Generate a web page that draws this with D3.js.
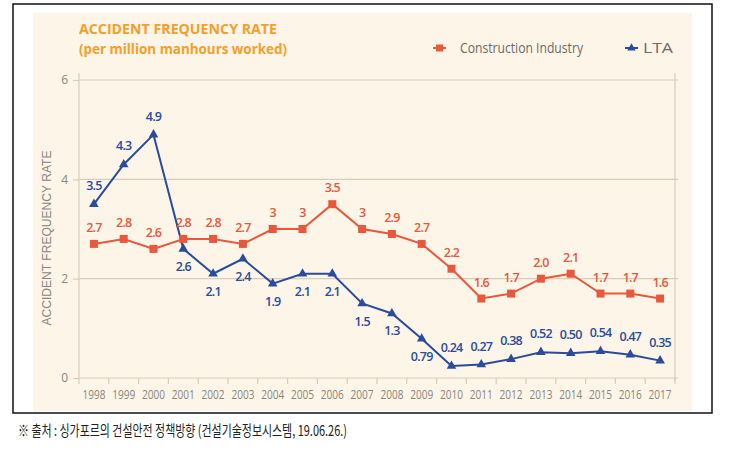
<!DOCTYPE html>
<html><head><meta charset="utf-8">
<script src="https://cdn.jsdelivr.net/npm/d3@7"></script>
<style>body{margin:0;background:#fff}svg{display:block}</style>
</head><body>
<script>
const years = ["1998","1999","2000","2001","2002","2003","2004","2005","2006","2007","2008","2009","2010","2011","2012","2013","2014","2015","2016","2017"];
const construction = [2.7,2.8,2.6,2.8,2.8,2.7,3,3,3.5,3,2.9,2.7,2.2,1.6,1.7,2.0,2.1,1.7,1.7,1.6];
const constructionLabels = ["2.7","2.8","2.6","2.8","2.8","2.7","3","3","3.5","3","2.9","2.7","2.2","1.6","1.7","2.0","2.1","1.7","1.7","1.6"];
const lta = [3.5,4.3,4.9,2.6,2.1,2.4,1.9,2.1,2.1,1.5,1.3,0.79,0.24,0.27,0.38,0.52,0.50,0.54,0.47,0.35];
const ltaLabels = ["3.5","4.3","4.9","2.6","2.1","2.4","1.9","2.1","2.1","1.5","1.3","0.79","0.24","0.27","0.38","0.52","0.50","0.54","0.47","0.35"];
const ltaLabelPos = ["a","a","a","b","b","b","b","b","b","b","b","b","a","a","a","a","a","a","a","a"];
const yTicks = [0,2,4,6];

const W = 730, H = 457;
const svg = d3.select("body").append("svg").attr("width", W).attr("height", H);

svg.append("rect").attr("x",33).attr("y",13).attr("width",659).attr("height",398).attr("fill","#fdf5e7");
svg.append("rect").attr("x",13).attr("y",4).attr("width",699).attr("height",409).attr("fill","none").attr("stroke","#111").attr("stroke-width",1.5);

const x = d3.scaleBand().domain(years).range([79,675]);
const y = d3.scaleLinear().domain([0,6]).range([378,80]);
const cx = d => x(d) + x.bandwidth()/2;

const grid = "#d8cdbd";
svg.append("g").selectAll("line").data(yTicks.filter(d=>d>0)).join("line")
  .attr("x1",79).attr("x2",678).attr("y1",d=>y(d)).attr("y2",d=>y(d))
  .attr("stroke",grid).attr("stroke-width",1.2);
svg.append("line").attr("x1",675).attr("x2",675).attr("y1",73).attr("y2",381).attr("stroke",grid).attr("stroke-width",1.2);

const yAxis = svg.append("g").attr("transform","translate(79,0)")
  .call(d3.axisLeft(y).tickValues(yTicks).tickSize(6).tickPadding(5).tickFormat(d3.format("d")));
yAxis.select(".domain").attr("stroke",grid).attr("stroke-width",1.2).attr("d","M0,73V378");
yAxis.selectAll(".tick line").attr("stroke",grid).attr("stroke-width",1.2);
yAxis.selectAll("text").attr("fill","#8a8580").attr("font-family","'Open Sans',sans-serif").attr("font-size",12);

const xAxis = svg.append("g").attr("transform","translate(0,378)")
  .call(d3.axisBottom(x).tickSize(0).tickPadding(12));
xAxis.select(".domain").attr("stroke",grid).attr("stroke-width",1.2).attr("d","M79,0H678");
xAxis.selectAll("text").attr("fill","#8a8580").attr("font-family","'Open Sans',sans-serif").attr("font-size",12)
  .attr("textLength",23).attr("lengthAdjust","spacingAndGlyphs");
const bounds = years.map(d=>x(d)).concat([675]);
svg.append("g").selectAll("line").data(bounds).join("line")
  .attr("x1",d=>d).attr("x2",d=>d).attr("y1",378).attr("y2",384)
  .attr("stroke",grid).attr("stroke-width",1.2);

svg.append("text").attr("transform","translate(51,238) rotate(-90)").attr("text-anchor","middle")
  .attr("font-family","'Liberation Sans','DejaVu Sans',sans-serif").attr("font-size",12).attr("fill","#8a8580")
  .attr("textLength",175).attr("lengthAdjust","spacingAndGlyphs")
  .text("ACCIDENT FREQUENCY RATE");

const tf = "'Open Sans','Noto Sans',sans-serif";
svg.append("text").attr("x",79).attr("y",34).attr("font-family",tf).attr("font-weight",700).attr("font-size",15)
  .attr("fill","#f2a02d").attr("textLength",198).attr("lengthAdjust","spacingAndGlyphs").text("ACCIDENT FREQUENCY RATE");
svg.append("text").attr("x",79).attr("y",54).attr("font-family",tf).attr("font-weight",700).attr("font-size",15)
  .attr("fill","#f2a02d").attr("textLength",208).attr("lengthAdjust","spacingAndGlyphs").text("(per million manhours worked)");

const red = "#e9573c", blue = "#2a4b9e";
const line = d3.line().x((d,i)=>cx(years[i])).y(d=>y(d));

svg.append("path").datum(construction).attr("d",line).attr("fill","none").attr("stroke",red).attr("stroke-width",2);
svg.append("path").datum(lta).attr("d",line).attr("fill","none").attr("stroke",blue).attr("stroke-width",2);

svg.append("g").selectAll("rect").data(construction).join("rect")
  .attr("x",(d,i)=>cx(years[i])-4).attr("y",d=>y(d)-4).attr("width",8).attr("height",8).attr("fill",red);
const tri = d3.symbol().type(d3.symbolTriangle).size(40);
svg.append("g").selectAll("path").data(lta).join("path")
  .attr("transform",(d,i)=>`translate(${cx(years[i])},${y(d)})`).attr("d",tri).attr("fill",blue);

const lf = "'Open Sans','Noto Sans',sans-serif";
svg.append("g").selectAll("text").data(construction).join("text")
  .attr("x",(d,i)=>cx(years[i])).attr("y",d=>y(d)-12).attr("text-anchor","middle")
  .attr("font-family",lf).attr("font-weight",600).attr("font-size",12.5).attr("letter-spacing",-0.8)
  .attr("fill",red).text((d,i)=>constructionLabels[i]);
svg.append("g").selectAll("text").data(lta).join("text")
  .attr("x",(d,i)=>cx(years[i])).attr("y",(d,i)=>ltaLabelPos[i]==="a" ? y(d)-14 : y(d)+22).attr("text-anchor","middle")
  .attr("font-family",lf).attr("font-weight",600).attr("font-size",12.5).attr("letter-spacing",-0.8)
  .attr("fill",blue).text((d,i)=>ltaLabels[i]);

const legend = [{name:"Construction Industry",color:red,shape:"sq",x:433,tx:27,w:123},{name:"LTA",color:blue,shape:"tri",x:625,tx:18,w:30}];
const lg = svg.append("g").selectAll("g").data(legend).join("g").attr("transform",d=>`translate(${d.x},48)`);
lg.append("line").attr("x1",0).attr("x2",13).attr("stroke",d=>d.color).attr("stroke-width",2);
lg.filter(d=>d.shape==="sq").append("rect").attr("x",3).attr("y",-3.5).attr("width",7).attr("height",7).attr("fill",d=>d.color);
lg.filter(d=>d.shape==="tri").append("path").attr("transform","translate(6.5,0)").attr("d",d3.symbol().type(d3.symbolTriangle).size(30)).attr("fill",d=>d.color);
lg.append("text").attr("x",d=>d.tx).attr("y",5).attr("font-family","'Open Sans',sans-serif")
  .attr("font-size",14).attr("fill","#6f6a66").attr("textLength",d=>d.w).attr("lengthAdjust","spacingAndGlyphs").text(d=>d.name);

svg.append("text").attr("x",18).attr("y",436).attr("font-family","'Noto Sans CJK KR',sans-serif").attr("font-size",15)
  .attr("fill","#222").attr("textLength",329).attr("lengthAdjust","spacingAndGlyphs")
  .text("※ 출처 : 싱가포르의 건설안전 정책방향 (건설기술정보시스템, 19.06.26.)");
</script>
</body></html>
